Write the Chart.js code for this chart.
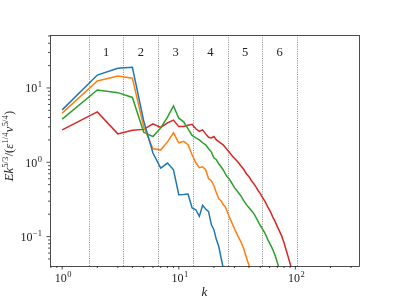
<!DOCTYPE html>
<html>
<head>
<meta charset="utf-8">
<script src="https://cdn.jsdelivr.net/npm/chart.js@4.4.0/dist/chart.umd.min.js"></script>
<style>
  html, body { margin: 0; padding: 0; background: #fff; }
  #wrap { width: 399px; height: 299px; }
</style>
</head>
<body>
<div id="wrap"><canvas id="chart" width="399" height="299"></canvas></div>
<script>
// wavenumbers shared by all four spectra
const k = [1, 2, 3, 4, 5, 6, 7, 8, 9, 10, 11, 12, 13, 14, 15, 16, 17, 18, 19, 20,
  21, 22, 23, 24, 25, 26, 27, 28, 29, 30, 32, 34, 36, 38, 40, 42, 44, 46, 48, 50,
  52, 55, 58, 61, 64, 67, 70, 73, 76, 80, 84, 88, 92];

// compensated spectra
const blue = [5.07, 14.9, 18.4, 19.0, 3.61, 1.33, 0.836, 0.975, 0.793, 0.366,
  0.369, 0.374, 0.243, 0.230, 0.187, 0.263, 0.235, 0.217, 0.145, 0.124,
  0.0912, 0.0741, 0.0523, 0.0384, 0.028];
const orange = [4.58, 12.4, 14.5, 13.5, 3.0, 1.52, 1.47, 1.88, 2.49, 1.83,
  1.91, 1.72, 1.26, 0.985, 0.844, 0.87, 0.793, 0.601, 0.565, 0.484,
  0.39, 0.324, 0.304, 0.269, 0.253, 0.217, 0.186, 0.164, 0.145, 0.128,
  0.103, 0.0857, 0.069, 0.0523, 0.0408, 0.033];
const green = [3.80, 9.40, 8.65, 7.46, 2.53, 2.22, 2.9, 4.06, 5.73, 3.92,
  3.50, 2.82, 2.30, 2.13, 2.00, 1.83, 1.72, 1.52, 1.38, 1.15,
  1.08, 0.955, 0.87, 0.793, 0.701, 0.639, 0.601, 0.547, 0.499, 0.455,
  0.402, 0.355, 0.304, 0.269, 0.245, 0.223, 0.204, 0.180, 0.159, 0.141,
  0.128, 0.110, 0.0912, 0.0781, 0.0669, 0.0556, 0.0448, 0.036];
const red = [2.73, 4.76, 2.41, 2.69, 2.77, 3.29, 2.95, 3.39, 3.69, 3.02,
  3.04, 3.14, 3.24, 2.82, 2.61, 2.73, 2.41, 2.17, 2.13, 2.22,
  2.00, 1.90, 1.80, 1.72, 1.59, 1.47, 1.38, 1.28, 1.20, 1.13,
  1.016, 0.898, 0.805, 0.701, 0.639, 0.565, 0.514, 0.462, 0.414, 0.378,
  0.339, 0.295, 0.249, 0.217, 0.183, 0.159, 0.136, 0.1186, 0.103, 0.0818,
  0.0629, 0.0491, 0.0384];

const seriesList = [blue, orange, green, red];
const lineColors = ['#1f77b4', '#ff7f0e', '#2ca02c', '#d62728'];

// dotted band edges and the band numbers between them
const bandEdges = [1.69, 3.35, 6.65, 13.2, 26.3, 52.1, 103.4];
const bandLabels = ['1', '2', '3', '4', '5', '6'];

const xMajor = [1, 10, 100];
const xExp = ['0', '1', '2'];
const yMajor = [0.1, 1, 10];
const yExp = ['\u22121', '0', '1'];

const SERIF = '"Liberation Serif", "DejaVu Serif", serif';

function minorTicks(lo, hi) {
  const out = [];
  for (let d = Math.pow(10, Math.floor(Math.log10(lo))); d <= hi; d *= 10) {
    for (let m = 2; m <= 9; m++) {
      const v = m * d;
      if (v >= lo && v <= hi) out.push(v);
    }
  }
  return out;
}

// "10" with a raised exponent; align is 'center' or 'right'
function drawPow(ctx, exp, x, y, align) {
  ctx.font = '12px ' + SERIF;
  const wBase = ctx.measureText('10').width;
  ctx.font = '8.5px ' + SERIF;
  const wExp = ctx.measureText(exp).width;
  const total = wBase + wExp + 0.5;
  const left = align === 'center' ? x - total / 2 : x - total;
  ctx.textAlign = 'left';
  ctx.textBaseline = 'alphabetic';
  ctx.font = '12px ' + SERIF;
  ctx.fillText('10', left, y);
  ctx.font = '8.5px ' + SERIF;
  ctx.fillText(exp, left + wBase + 0.5, y - 5);
}

// rotated y-axis title with superscripts
function drawYTitle(ctx, cx, cy) {
  const parts = [
    { t: 'E', it: true }, { t: 'k', it: true }, { t: '5/3', sup: true },
    { t: '/(', it: false }, { t: '\u03b5', it: true }, { t: '1/4', sup: true },
    { t: '\u03bd', it: true }, { t: '5/4', sup: true }, { t: ')', it: false }
  ];
  const fontOf = p => p.sup ? '8.5px ' + SERIF : (p.it ? 'italic 12.5px ' : '12.5px ') + SERIF;
  let total = 0;
  parts.forEach(p => { ctx.font = fontOf(p); p.w = ctx.measureText(p.t).width + (p.sup ? 0.8 : 0); total += p.w; });
  ctx.save();
  ctx.translate(cx, cy);
  ctx.rotate(-Math.PI / 2);
  ctx.textAlign = 'left';
  ctx.textBaseline = 'alphabetic';
  let pos = -total / 2;
  parts.forEach(p => {
    ctx.font = fontOf(p);
    ctx.fillText(p.t, pos + (p.sup ? 0.4 : 0), p.sup ? -5 : 0);
    pos += p.w;
  });
  ctx.restore();
}

const decor = {
  id: 'decor',
  beforeDatasetsDraw(chart) {
    const { ctx, chartArea: a, scales: { x } } = chart;
    ctx.save();
    ctx.strokeStyle = 'rgba(0,0,0,0.6)';
    ctx.lineWidth = 0.8;
    ctx.setLineDash([1, 1.3]);
    bandEdges.forEach(v => {
      const px = Math.round(x.getPixelForValue(v)) + 0.5;
      ctx.beginPath();
      ctx.moveTo(px, a.top);
      ctx.lineTo(px, a.bottom);
      ctx.stroke();
    });
    ctx.restore();
  },
  afterDraw(chart) {
    const { ctx, chartArea: a, scales: { x, y } } = chart;
    ctx.save();
    ctx.fillStyle = '#222';
    ctx.strokeStyle = '#222';
    ctx.lineWidth = 0.8;

    // frame
    ctx.strokeRect(a.left + 0.5, a.top + 0.5, a.right - a.left, a.bottom - a.top);

    // x ticks
    const xs = x.min, xe = x.max;
    xMajor.forEach((v, i) => {
      const px = x.getPixelForValue(v);
      ctx.beginPath(); ctx.moveTo(px, a.bottom); ctx.lineTo(px, a.bottom + 3.5); ctx.stroke();
      drawPow(ctx, xExp[i], px + 1, 282, 'center');
    });
    minorTicks(xs, xe).forEach(v => {
      if (xMajor.includes(v)) return;
      const px = x.getPixelForValue(v);
      ctx.beginPath(); ctx.moveTo(px, a.bottom); ctx.lineTo(px, a.bottom + 2); ctx.stroke();
    });

    // y ticks
    yMajor.forEach((v, i) => {
      const py = y.getPixelForValue(v);
      ctx.beginPath(); ctx.moveTo(a.left, py); ctx.lineTo(a.left - 3.5, py); ctx.stroke();
      drawPow(ctx, yExp[i], 42, py + 4.3, 'right');
    });
    minorTicks(y.min, y.max).forEach(v => {
      if (yMajor.includes(v)) return;
      const py = y.getPixelForValue(v);
      ctx.beginPath(); ctx.moveTo(a.left, py); ctx.lineTo(a.left - 2, py); ctx.stroke();
    });

    // band numbers
    ctx.font = '12.5px ' + SERIF;
    ctx.textAlign = 'center';
    ctx.textBaseline = 'alphabetic';
    bandLabels.forEach((t, i) => {
      const mid = Math.sqrt(bandEdges[i] * bandEdges[i + 1]);
      ctx.fillText(t, x.getPixelForValue(mid), 56);
    });

    // axis titles
    ctx.font = 'italic 13px ' + SERIF;
    ctx.fillText('k', (a.left + a.right) / 2, 296);
    drawYTitle(ctx, 12.5, 146);
    ctx.restore();
  }
};

new Chart(document.getElementById('chart'), {
  type: 'line',
  data: {
    datasets: seriesList.map((vals, i) => ({
      data: vals.map((v, j) => ({ x: k[j], y: v })),
      borderColor: lineColors[i],
      borderWidth: 1.5,
      pointRadius: 0,
      tension: 0,
      fill: false
    }))
  },
  options: {
    responsive: false,
    animation: false,
    layout: { padding: { left: 50, top: 35, right: 40, bottom: 33 } },
    plugins: { legend: { display: false }, tooltip: { enabled: false } },
    scales: {
      x: { type: 'logarithmic', min: 0.786, max: 351, display: false },
      y: { type: 'logarithmic', min: 0.0402, max: 51.6, display: false }
    }
  },
  plugins: [decor]
});
</script>
</body>
</html>
